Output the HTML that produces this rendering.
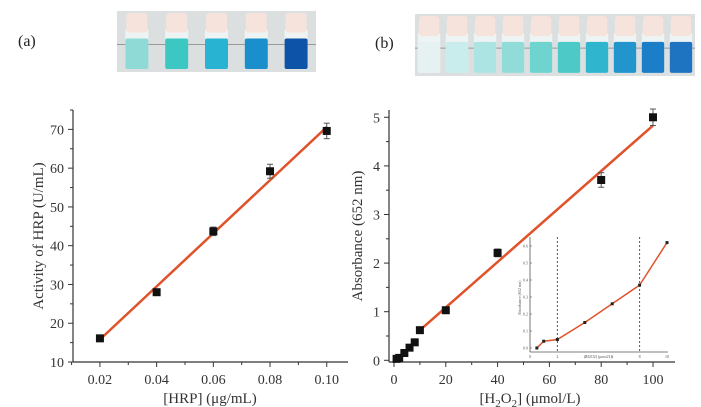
<!DOCTYPE html>
<html><head><meta charset="utf-8"><style>
body{margin:0;background:#fff;width:701px;height:407px;overflow:hidden}
svg{display:block;font-family:"Liberation Serif",serif}
</style></head><body>
<svg width="701" height="407" id="svg">
<text x="18" y="46" font-size="16" fill="#222">(a)</text>
<text x="375" y="48" font-size="16" fill="#222">(b)</text>
<g id="photoA"></g>
<g id="photoB"></g>
<g id="chartA"></g>
<g id="chartB"></g>
<g id="inset"></g>
</svg>
<script>
// Chart A data
const hrpConc=[0.02,0.04,0.06,0.08,0.10];
const hrpActivity=[16.1,28.0,43.7,59.2,69.6];
const hrpErr=[0.6,0.8,1.1,1.8,2.0];
const hrpFit=[15.8,70.6];
const aYTicks=[10,20,30,40,50,60,70];
const aXTicks=[0.02,0.04,0.06,0.08,0.10];
// Chart B data
const h2o2Conc=[1,2,4,6,8,10,20,40,80,100];
const absorb=[0.03,0.05,0.15,0.26,0.37,0.62,1.03,2.21,3.71,5.0];
const absErr=[0.02,0.02,0.02,0.02,0.03,0.04,0.05,0.08,0.15,0.17];
const bFitX=[10,100];
const bFitY=[0.62,4.83];
const bYTicks=[0,1,2,3,4,5];
const bXTicks=[0,20,40,60,80,100];
// Inset data
const insetX=[0.5,1,2,4,6,8,10];
const insetY=[0.0,0.04,0.05,0.15,0.26,0.37,0.62];
const insetDash=[2,8];
const insetXTicks=[0,2,4,6,8,10];
const insetYTicks=[0,0.1,0.2,0.3,0.4,0.5,0.6];

const NS='http://www.w3.org/2000/svg';
function mk(p,t,a){const e=document.createElementNS(NS,t);for(const k in a)e.setAttribute(k,a[k]);p.appendChild(e);return e;}

// photos
function photo(g,x0,y0,w,h,colors){
  mk(g,'rect',{x:x0,y:y0,width:w,height:h,fill:'#dcdfe0'});
  mk(g,'line',{x1:x0,y1:y0+h*0.55,x2:x0+w,y2:y0+h*0.55,stroke:'#999','stroke-width':1});
  const n=colors.length,sp=w/n;
  colors.forEach((c,i)=>{
    const cx=x0+sp*(i+0.5),bw=Math.min(23,sp*0.8);
    const b=mk(g,'g',{});
    
    
    mk(b,'rect',{x:cx-bw/2,y:y0+h*0.3,width:bw,height:h*0.65,fill:'#eef3f3',rx:2});
    mk(b,'rect',{x:cx-bw/2,y:y0+h*0.45,width:bw,height:h*0.5,fill:c,rx:2});
    mk(b,'rect',{x:cx-bw/2+1,y:y0+2,width:bw-2,height:h*0.32,fill:'#f6e3dc',rx:3});
  });
}
photo(document.getElementById('photoA'),117,11,199,61,['#8fd9d6','#3cc7c2','#29b3d2','#1a8fcb','#0d54a8']);
photo(document.getElementById('photoB'),415,14,280,62,['#e6f2f2','#c9ecec','#abe4e2','#91dcd9','#6fd4d0','#4dcac8','#30b5cf','#2195cc','#1a7ec8','#1f74c2']);

function axes(g,o){
  // o: x0,x1,y0,y1 pixel; xmin..; returns scale funcs
  const sx=v=>o.px0+(v-o.xmin)/(o.xmax-o.xmin)*(o.px1-o.px0);
  const sy=v=>o.py0-(v-o.ymin)/(o.ymax-o.ymin)*(o.py0-o.py1);
  return [sx,sy];
}

// Chart A
(function(){
  const g=document.getElementById('chartA');
  const o={px0:73,px1:348,py0:362,py1:110,xmin:0.0105,xmax:0.1075,ymin:10,ymax:75};
  const [sx,sy]=axes(g,o);
  mk(g,'line',{x1:73,y1:110,x2:73,y2:362,stroke:'#333','stroke-width':1.2});
  mk(g,'line',{x1:73,y1:362,x2:348,y2:362,stroke:'#333','stroke-width':1.2});
  aYTicks.forEach(v=>{
    mk(g,'line',{x1:73,y1:sy(v),x2:68,y2:sy(v),stroke:'#333'});
    mk(g,'line',{x1:73,y1:sy(v+5),x2:70,y2:sy(v+5),stroke:'#333'});
    const t=mk(g,'text',{x:64,y:sy(v)+5,'font-size':14,'text-anchor':'end',fill:'#333'});t.textContent=v;
    
  });
  aXTicks.forEach(v=>{
    mk(g,'line',{x1:sx(v),y1:362,x2:sx(v),y2:367,stroke:'#333'});
    mk(g,'line',{x1:sx(v-0.01),y1:362,x2:sx(v-0.01),y2:365,stroke:'#333'});
    const t=mk(g,'text',{x:sx(v),y:384,'font-size':14,'text-anchor':'middle',fill:'#333'});t.textContent=v.toFixed(2);
    
  });
  const xt=mk(g,'text',{x:210,y:403,'font-size':15,'text-anchor':'middle',fill:'#333'});xt.textContent='[HRP] (μg/mL)';
  
  const yt=mk(g,'text',{x:0,y:0,'font-size':15,'text-anchor':'middle',fill:'#333',transform:'translate(43,236) rotate(-90)'});yt.textContent='Activity of HRP (U/mL)';
  
  const fl=mk(g,'line',{x1:sx(hrpConc[0]),y1:sy(hrpFit[0]),x2:sx(hrpConc[4]),y2:sy(hrpFit[1]),stroke:'#e0522a','stroke-width':2.5});
  
  hrpConc.forEach((c,i)=>{
    const x=sx(c),y=sy(hrpActivity[i]),e=hrpErr[i];
    mk(g,'line',{x1:x,y1:sy(hrpActivity[i]+e),x2:x,y2:sy(hrpActivity[i]-e),stroke:'#555'});
    mk(g,'line',{x1:x-3,y1:sy(hrpActivity[i]+e),x2:x+3,y2:sy(hrpActivity[i]+e),stroke:'#555'});
    mk(g,'line',{x1:x-3,y1:sy(hrpActivity[i]-e),x2:x+3,y2:sy(hrpActivity[i]-e),stroke:'#555'});
    const r=mk(g,'rect',{x:x-4,y:y-4,width:8,height:8,fill:'#111'});
    
  });
})();

// Chart B
(function(){
  const g=document.getElementById('chartB');
  const o={px0:389,px1:675,py0:362,py1:110,xmin:-1.93,xmax:108.5,ymin:-0.035,ymax:5.15};
  const [sx,sy]=axes(g,o);
  mk(g,'line',{x1:389,y1:110,x2:389,y2:362,stroke:'#333','stroke-width':1.2});
  mk(g,'line',{x1:389,y1:362,x2:675,y2:362,stroke:'#333','stroke-width':1.2});
  bYTicks.forEach(v=>{
    mk(g,'line',{x1:389,y1:sy(v),x2:384,y2:sy(v),stroke:'#333'});
    if(v<5)mk(g,'line',{x1:389,y1:sy(v+0.5),x2:386,y2:sy(v+0.5),stroke:'#333'});
    const t=mk(g,'text',{x:380,y:sy(v)+5,'font-size':14,'text-anchor':'end',fill:'#333'});t.textContent=v;
    
  });
  bXTicks.forEach(v=>{
    mk(g,'line',{x1:sx(v),y1:362,x2:sx(v),y2:367,stroke:'#333'});
    if(v<100)mk(g,'line',{x1:sx(v+10),y1:362,x2:sx(v+10),y2:365,stroke:'#333'});
    const t=mk(g,'text',{x:sx(v),y:384,'font-size':14,'text-anchor':'middle',fill:'#333'});t.textContent=v;
    
  });
  const xt=mk(g,'text',{x:530,y:403,'font-size':15,'text-anchor':'middle',fill:'#333'});
  xt.innerHTML='[H<tspan font-size="11" dy="4">2</tspan><tspan dy="-4">O</tspan><tspan font-size="11" dy="4">2</tspan><tspan dy="-4">] (μmol/L)</tspan>';
  
  const yt=mk(g,'text',{x:0,y:0,'font-size':15,'text-anchor':'middle',fill:'#333',transform:'translate(362,236) rotate(-90)'});yt.textContent='Absorbance (652 nm)';
  
  const fl=mk(g,'line',{x1:sx(bFitX[0]),y1:sy(bFitY[0]),x2:sx(bFitX[1]),y2:sy(bFitY[1]),stroke:'#e0522a','stroke-width':2.5});
  
  h2o2Conc.forEach((c,i)=>{
    const x=sx(c),y=sy(absorb[i]),e=absErr[i];
    mk(g,'line',{x1:x,y1:sy(absorb[i]+e),x2:x,y2:sy(absorb[i]-e),stroke:'#555'});
    mk(g,'line',{x1:x-3,y1:sy(absorb[i]+e),x2:x+3,y2:sy(absorb[i]+e),stroke:'#555'});
    mk(g,'line',{x1:x-3,y1:sy(absorb[i]-e),x2:x+3,y2:sy(absorb[i]-e),stroke:'#555'});
    const r=mk(g,'rect',{x:x-4,y:y-4,width:8,height:8,fill:'#111'});
    
  });
})();

// Inset
(function(){
  const g=document.getElementById('inset');
  const o={px0:530,px1:667,py0:348,py1:246,xmin:0,xmax:10,ymin:0,ymax:0.6};
  const [sx,sy]=axes(g,o);
  mk(g,'rect',{x:530,y:237,width:138,height:115,fill:'#fff'});
  mk(g,'line',{x1:530,y1:237,x2:530,y2:352,stroke:'#555','stroke-width':0.8});
  mk(g,'line',{x1:530,y1:352,x2:668,y2:352,stroke:'#555','stroke-width':0.8});
  insetYTicks.forEach(v=>{
    mk(g,'line',{x1:530,y1:sy(v),x2:532,y2:sy(v),stroke:'#555','stroke-width':0.6});
    const t=mk(g,'text',{x:528,y:sy(v)+1.5,'font-size':4,'text-anchor':'end',fill:'#555'});t.textContent=v.toFixed(1);
  });
  insetXTicks.forEach(v=>{
    const t=mk(g,'text',{x:sx(v),y:358,'font-size':4,'text-anchor':'middle',fill:'#555'});t.textContent=v;
  });
  const lt=mk(g,'text',{x:sx(5),y:358,'font-size':4,'text-anchor':'middle',fill:'#555'});lt.textContent='[H2O2] (μmol/L)';
  const yt=mk(g,'text',{x:0,y:0,'font-size':4,'text-anchor':'middle',fill:'#555',transform:'translate(521,298) rotate(-90)'});yt.textContent='Absorbance (652 nm)';
  insetDash.forEach(v=>{
    const d=mk(g,'line',{x1:sx(v),y1:237,x2:sx(v),y2:352,stroke:'#555','stroke-width':1,'stroke-dasharray':'2,2'});
    
  });
  const pts=insetX.map((x,i)=>sx(x)+','+sy(insetY[i])).join(' ');
  const pl=mk(g,'polyline',{points:pts,fill:'none',stroke:'#e0522a','stroke-width':1.5});
  
  insetX.forEach((x,i)=>{
    const r=mk(g,'rect',{x:sx(x)-1.5,y:sy(insetY[i])-1.5,width:3,height:3,fill:'#222'});
    
  });
})();
</script>
</body></html>
